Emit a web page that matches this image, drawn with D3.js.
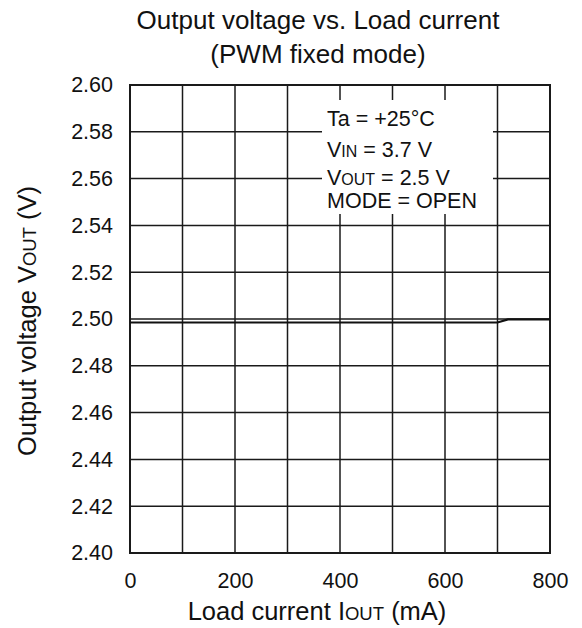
<!DOCTYPE html>
<html><head><meta charset="utf-8">
<script src="https://cdn.jsdelivr.net/npm/d3@7"></script>
<style>body{margin:0;background:#fff}svg text{font-family:"Liberation Sans",Arial,sans-serif;fill:#111}</style>
</head><body><svg id="c" width="582" height="628"></svg>
<script>
const loadCurrent = [0, 100, 200, 300, 400, 500, 600, 700, 720, 800];
const outputVoltage = [2.4985, 2.4985, 2.4985, 2.4985, 2.4985, 2.4985, 2.4985, 2.4985, 2.4998, 2.4998];
const xTicks = [0, 200, 400, 600, 800];
const xGrid = [0, 100, 200, 300, 400, 500, 600, 700, 800];
const yTicks = [2.40, 2.42, 2.44, 2.46, 2.48, 2.50, 2.52, 2.54, 2.56, 2.58, 2.60];
const titleLines = ["Output voltage vs. Load current", "(PWM fixed mode)"];

const svg = d3.select("#c");
const L = 130, T = 85, W = 420, H = 468;
const x = d3.scaleLinear().domain([0, 800]).range([L, L + W]);
const y = d3.scaleLinear().domain([2.40, 2.60]).range([T + H, T]);
const stroke = "#1a1a1a";
const FF = '"Liberation Sans",Arial,sans-serif';

// grid
svg.append("g").selectAll("line").data(xGrid).join("line")
  .attr("x1", d => x(d)).attr("x2", d => x(d)).attr("y1", T).attr("y2", T + H)
  .attr("stroke", stroke).attr("stroke-width", 1.5);
svg.append("g").selectAll("line").data(yTicks).join("line")
  .attr("x1", L).attr("x2", L + W).attr("y1", d => y(d)).attr("y2", d => y(d))
  .attr("stroke", stroke).attr("stroke-width", 1.5);

// legend box (white, covers grid)
svg.append("rect").attr("x", 322).attr("y", 100).attr("width", 171).attr("height", 114).attr("fill", "#fff");

// border
svg.append("rect").attr("x", L).attr("y", T).attr("width", W).attr("height", H)
  .attr("fill", "none").attr("stroke", stroke).attr("stroke-width", 2);

// axes tick labels
const xAxis = d3.axisBottom(x).tickValues(xTicks).tickSize(0).tickPadding(20).tickFormat(d3.format("d"));
const gx = svg.append("g").attr("transform", `translate(0,${T + H})`).call(xAxis);
gx.select(".domain").remove();
gx.selectAll("text").attr("font-size", 21.5).attr("fill", "#111").attr("font-family", FF);

const yAxis = d3.axisLeft(y).tickValues(yTicks).tickSize(0).tickPadding(17).tickFormat(d3.format(".2f"));
const gy = svg.append("g").attr("transform", `translate(${L},0)`).call(yAxis);
gy.select(".domain").remove();
gy.selectAll("text").attr("font-size", 21.5).attr("fill", "#111").attr("font-family", FF);

// data line
svg.append("path").datum(loadCurrent.map((d, i) => [d, outputVoltage[i]]))
  .attr("d", d3.line().x(d => x(d[0])).y(d => y(d[1])))
  .attr("fill", "none").attr("stroke", "#111").attr("stroke-width", 2.2);

// title
svg.append("g").selectAll("text").data(titleLines).join("text")
  .attr("x", 318).attr("y", (d, i) => 29 + i * 34).attr("text-anchor", "middle")
  .attr("font-size", 26).text(d => d);

// legend text
const lg = svg.append("g").attr("font-size", 21.5);
function rich(g, xx, yy, parts, anchor) {
  const t = g.append("text").attr("x", xx).attr("y", yy);
  if (anchor) t.attr("text-anchor", anchor);
  parts.forEach(p => {
    const s = t.append("tspan").text(p[0]);
    if (p[1]) s.attr("font-size", p[1]);
  });
  return t;
}
rich(lg, 327, 126, [["Ta = +25°C"]]);
rich(lg, 327, 157, [["V"], ["IN", 16], [" = 3.7 V"]]);
rich(lg, 327, 185, [["V"], ["OUT", 16], [" = 2.5 V"]]);
rich(lg, 327, 208, [["MODE = OPEN"]]);

// axis titles
rich(svg, 317, 620, [["Load current I"], ["OUT", 18.5], [" (mA)"]], "middle").attr("font-size", 25.5);
rich(svg, 0, 0, [["Output voltage V"], ["OUT", 18.5], [" (V)"]], "middle").attr("font-size", 25.5)
  .attr("transform", `translate(36,321) rotate(-90)`);
</script></body></html>
